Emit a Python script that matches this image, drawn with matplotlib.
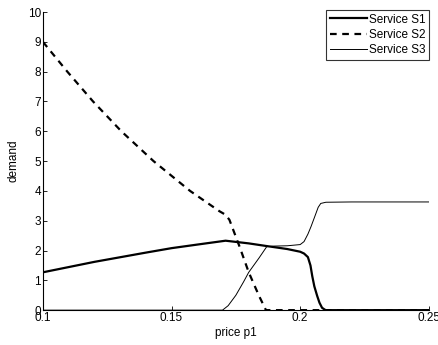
import numpy as np
import matplotlib
matplotlib.use('Agg')
import matplotlib.pyplot as plt

plt.rcParams['font.family'] = ['Liberation Sans', 'DejaVu Sans']
plt.rcParams['font.size'] = 8.5

# demand curves against the price of service 1
price_s1 = [0.1, 0.12, 0.14, 0.15, 0.16, 0.171, 0.18, 0.187, 0.195, 0.2, 0.2015,
            0.203, 0.204, 0.2047, 0.2055, 0.2066, 0.2075, 0.2085, 0.2095, 0.21, 0.25]
s1 = [1.27, 1.62, 1.93, 2.08, 2.2, 2.33, 2.24, 2.15, 2.05, 1.96, 1.9,
      1.78, 1.5, 1.14, 0.8, 0.48, 0.25, 0.08, 0.02, 0.0, 0.0]

price_s2 = [0.1, 0.1095, 0.1195, 0.1305, 0.143, 0.1572, 0.1686, 0.171, 0.1725,
            0.1764, 0.18, 0.184, 0.1867, 0.25]
s2 = [9.0, 8.0, 7.0, 6.0, 5.0, 4.0, 3.32, 3.2, 3.03, 2.14, 1.27, 0.48, 0.0, 0.0]

price_s3 = [0.1, 0.1698, 0.172, 0.175, 0.178, 0.18, 0.184, 0.187, 0.19, 0.195, 0.2,
            0.2015, 0.203, 0.2042, 0.2055, 0.207, 0.208, 0.21, 0.22, 0.25]
s3 = [0.0, 0.0, 0.15, 0.5, 0.95, 1.27, 1.75, 2.13, 2.15, 2.16, 2.2,
      2.3, 2.55, 2.8, 3.1, 3.45, 3.58, 3.62, 3.63, 3.63]

fig = plt.figure(figsize=(4.38, 3.45), dpi=100)
ax = fig.add_axes([0.098, 0.101, 0.881, 0.864])

ax.plot(price_s1, s1, color='black', linewidth=1.6, label='Service S1')
ax.plot(price_s2, s2, color='black', linewidth=1.6, linestyle=(0, (3, 2.5)), label='Service S2')
ax.plot(price_s3, s3, color='black', linewidth=0.7, label='Service S3')

ax.set_xlim(0.1, 0.25)
ax.set_ylim(0, 10)
ax.set_xticks([0.1, 0.15, 0.2, 0.25])
ax.set_xticklabels(['0.1', '0.15', '0.2', '0.25'])
ax.set_yticks(range(0, 11))
ax.tick_params(direction='in', length=3, width=0.6, pad=1.5, labelsize=8.5)
ax.spines['top'].set_visible(False)
ax.spines['right'].set_visible(False)
for s in ['left', 'bottom']:
    ax.spines[s].set_linewidth(0.8)

ax.set_xlabel('price p1', fontsize=8.5, labelpad=2)
ax.set_ylabel('demand', fontsize=8.5, labelpad=6)

leg = ax.legend(loc='upper right', bbox_to_anchor=(1.0, 1.007), fontsize=8.5,
                frameon=True, fancybox=False, edgecolor='black', handlelength=3.2,
                handletextpad=0.1, borderpad=0.3, labelspacing=0.28, borderaxespad=0)
leg.get_frame().set_linewidth(0.8)

fig.savefig('out.png', dpi=100)
